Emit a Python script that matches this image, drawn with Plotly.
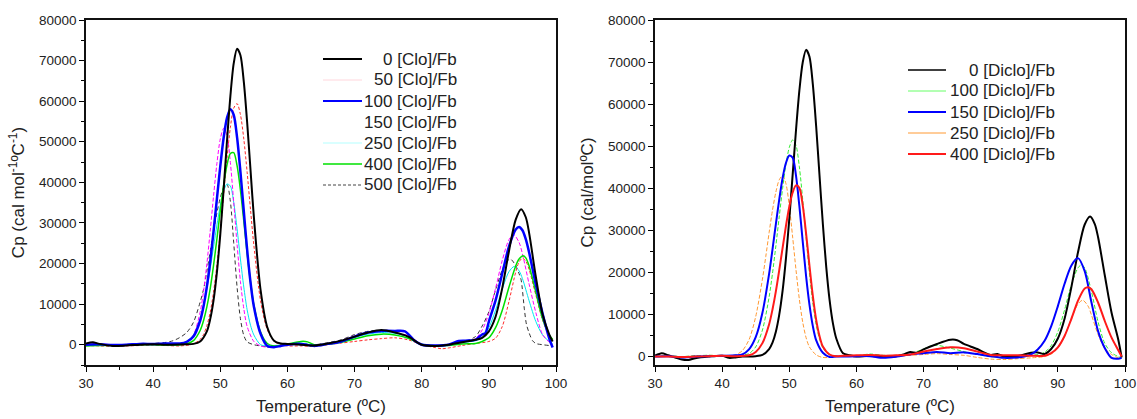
import plotly.graph_objects as go

# ---------------- DATA (Temperature ºC, Cp) ----------------
# Left panel: [Clo]/Fb
clo_0 = [(30,300),(31,600),(32,200),(34,-300),(36,-200),(38,0),(40,100),(42,0),(44,50),(45,100),(46,200),(47,800),(48,3300),(48.5,6300),(49,11000),(49.5,17900),(50,27200),(50.5,38300),(51,50200),(51.5,61200),(52,69300),(52.5,72900),(53,71300),(53.5,64800),(54,54800),(54.5,43100),(55,31500),(56,13500),(57,4300),(58,1000),(59,300),(60,200),(62,0),(64,-200),(66,300),(68,1000),(70,2000),(72,3000),(74,3600),(76,3000),(78,2000),(80,0),(82,-300),(84,0),(86,600),(88,1200),(89,1700),(90,3300),(91,6900),(92,14000),(93,23100),(94,30800),(94.8,33400),(95.5,31400),(96,27500),(97,16700),(98,7500),(99,2500),(99.5,800)]
clo_50 = [(30,-200),(32,-300),(34,-400),(36,-300),(38,-200),(40,-100),(42,-200),(44,-300),(46,200),(47,1300),(47.5,2500),(48,4700),(48.5,8000),(49,13000),(49.5,19700),(50,27900),(50.5,37000),(51,46000),(51.5,53500),(52,58300),(52.5,59400),(53,56700),(53.5,50700),(54,42500),(54.5,33300),(55,24500),(56,10800),(57,3700),(58,900),(59,0),(60,-300),(62,-300),(64,-400),(66,0),(68,400),(70,800),(72,1200),(74,1500),(76,1700),(78,1200),(80,0),(82,-700),(83,-1000),(84,-800),(86,-200),(88,300),(90,800),(91,1600),(92,4500),(93,10700),(94,17900),(94.5,20400),(95,21300),(95.5,20600),(96,18500),(97,12200),(98,6100),(99,2300),(99.5,1300)]
clo_100 = [(30,0),(32,100),(34,-100),(36,0),(38,200),(40,200),(42,300),(44,300),(45,700),(46,2000),(47,5900),(47.5,9400),(48,14300),(48.5,20500),(49,28000),(49.5,36000),(50,44000),(50.5,51000),(51,55900),(51.5,58000),(52,56600),(52.5,51100),(53,42600),(53.5,32900),(54,23400),(54.5,15400),(55,9400),(56,2700),(57,-300),(58,-600),(59,-300),(60,0),(62,200),(64,-300),(66,200),(68,800),(70,2000),(72,3000),(74,3400),(76,3400),(77.5,3300),(79,900),(80,0),(82,-200),(84,0),(85.5,900),(86.5,1000),(88,1200),(89,2500),(89.5,2900),(90,5700),(91,10900),(92,17600),(93,24200),(94,28400),(94.5,29000),(95,28200),(95.5,26000),(96,22700),(97,14800),(98,7700),(99,1500),(99.5,-700)]
clo_150 = [(30,300),(32,200),(34,0),(36,0),(38,200),(40,100),(42,0),(44,200),(45,600),(46,2400),(47,8000),(47.5,13100),(48,19900),(48.5,28000),(49,36700),(49.5,44700),(50,50700),(50.5,53300),(51,51600),(51.5,44900),(52,35100),(52.5,24700),(53,15600),(53.5,8900),(54,4500),(55,800),(56,-300),(57,-600),(58,-400),(60,0),(62,300),(64,-200),(66,200),(68,1000),(70,2200),(72,3000),(74,3300),(76,3000),(78,2200),(80,200),(82,-300),(84,0),(86,500),(88,1500),(89,3600),(90,7700),(91,13900),(92,20800),(93,25900),(93.7,27100),(94.5,25200),(95,22400),(96,14900),(97,7900),(98,2500),(99,600),(99.5,0)]
clo_250 = [(30,0),(32,-100),(34,-200),(36,0),(38,100),(40,0),(42,100),(44,300),(45,800),(46,2400),(47,6400),(48,13800),(48.5,18700),(49,24100),(49.5,29500),(50,34300),(50.5,37800),(51,39600),(51.5,39100),(52,35100),(52.5,28600),(53,21100),(53.5,14200),(54,8600),(54.5,4800),(55,2400),(56,0),(57,-300),(58,-200),(60,0),(62,400),(64,-100),(66,200),(68,800),(70,1800),(72,2600),(74,3000),(76,2800),(78,2000),(80,200),(82,-200),(84,0),(86,500),(88,1000),(89,1700),(90,4200),(91,8500),(92,13700),(93,18000),(93.8,19300),(94.5,18200),(95,16300),(96,10800),(97,5700),(98,2400),(99,800),(99.5,200)]
clo_400 = [(30,-300),(32,-200),(34,-200),(36,-100),(38,0),(40,0),(42,-100),(44,0),(45,250),(46,1000),(47,3500),(47.5,5900),(48,9300),(48.5,13800),(49,19600),(49.5,26100),(50,33000),(50.5,39300),(51,44300),(51.5,47100),(52,47300),(52.5,44100),(53,38100),(53.5,30500),(54,22500),(54.5,15500),(55,9800),(56,3100),(57,300),(58,-300),(59,-200),(60,100),(62,800),(63,700),(64,0),(66,100),(68,600),(70,1400),(72,2200),(74,2600),(76,2400),(78,1600),(80,0),(82,-300),(84,-200),(86,200),(88,300),(89,800),(90,1700),(91,4200),(92,8500),(93,14200),(94,19400),(94.5,21100),(95.1,21900),(95.5,21400),(96,19400),(97,12900),(98,6400),(99,2400),(99.5,1300)]
clo_500 = [(30,200),(31,600),(32,200),(34,-200),(36,0),(38,0),(40,300),(42,600),(43,1000),(44,1800),(45,3000),(46,5500),(47,10500),(47.5,13600),(48,18100),(48.5,23000),(49,27900),(49.5,32500),(50,36200),(50.5,38700),(51,39500),(51.5,35300),(52,25100),(52.5,14200),(53,6400),(53.5,2300),(54,700),(55,0),(56,-300),(57,-500),(58,-300),(60,0),(62,300),(64,0),(66,500),(68,1200),(70,2500),(72,3300),(73.5,3500),(76,3000),(78,1800),(80,0),(82,-200),(84,0),(86,600),(88,2000),(89,4600),(90,8100),(91,13500),(92,18500),(92.5,20200),(93.2,21100),(94,19500),(94.5,17500),(94.8,16000),(95.3,8600),(95.6,5000),(96,2900),(96.5,1000),(97,300),(98,0),(99,-200),(99.5,-300)]

# Right panel: [Diclo]/Fb
diclo_0 = [(30,200),(31,800),(32,300),(33,-200),(34,-700),(35,-800),(36,-400),(38,0),(40,200),(41,-300),(42,-200),(43,0),(44,0),(45,100),(46,400),(47,1800),(47.5,3300),(48,5900),(48.5,9900),(49,15600),(49.5,23300),(50,32700),(50.5,43200),(51,53800),(51.5,63200),(52,69900),(52.5,72900),(53,71300),(53.5,64800),(54,54800),(54.5,43100),(55,31500),(55.5,21400),(56,13500),(56.5,7900),(57,4300),(58,800),(59,300),(60,0),(62,200),(64,-100),(66,100),(67,500),(68,1100),(69,900),(70,1700),(72,3000),(74,4000),(75,3900),(76,3000),(78,1800),(79,1000),(80,400),(81,600),(82,0),(84,100),(86,900),(87,1000),(88,600),(89,1800),(90,4300),(91,9000),(92,16400),(93,24800),(94,31400),(94.8,33300),(95.5,31500),(96,28300),(97,19200),(98,10400),(99,4000),(99.5,-200)]
diclo_100 = [(30,0),(32,200),(34,0),(36,200),(38,300),(40,200),(42,300),(43,400),(44,700),(45,2300),(46,6300),(47,14200),(47.5,19800),(48,26300),(48.5,33200),(49,39900),(49.5,45700),(50,49700),(50.5,51500),(51,50200),(51.5,45100),(52,37300),(52.5,28400),(53,19900),(53.5,12800),(54,7600),(54.5,4200),(55,2100),(56,400),(57,200),(58,0),(60,200),(62,600),(64,300),(66,300),(68,700),(70,1800),(71,2500),(72,2700),(74,2000),(76,1200),(78,500),(80,0),(82,-200),(84,-100),(86,300),(87,500),(88,1000),(89,2600),(90,5900),(91,11100),(92,17000),(93,21100),(93.5,21800),(94,21100),(95,15500),(96,8200),(97,3100),(98,900),(99,0),(99.5,-300)]
diclo_150 = [(30,0),(32,100),(34,-200),(36,0),(38,100),(40,200),(42,300),(43,500),(44,1700),(45,4600),(46,10400),(47,19700),(47.5,25500),(48,31500),(48.5,37300),(49,42400),(49.5,46000),(50,47800),(50.5,47300),(51,43000),(51.5,35800),(52,27400),(52.5,19200),(53,12400),(53.5,7300),(54,3900),(55,900),(56,-100),(57,0),(58,0),(60,100),(62,100),(64,-300),(66,0),(68,500),(70,800),(72,1100),(74,800),(76,1000),(78,600),(80,100),(82,-300),(84,-200),(85,0),(86,500),(87,1700),(88,3700),(89,7200),(90,12000),(91,17300),(92,21600),(93,23400),(94,20300),(95,12900),(96,6000),(97,2000),(98,-300),(99,-500),(99.5,-300)]
diclo_250 = [(30,0),(32,0),(34,-100),(36,100),(38,300),(40,200),(41,100),(42,400),(43,1400),(44,4000),(45,9500),(46,18400),(46.5,23800),(47,29500),(47.5,34800),(48,39100),(48.5,42000),(49,43000),(49.5,41100),(50,35800),(50.5,28400),(51,20600),(51.5,13600),(52,8200),(52.5,4500),(53,2300),(54,400),(55,-200),(56,-200),(57,0),(58,100),(60,0),(62,300),(64,200),(66,100),(68,300),(70,500),(72,700),(74,500),(76,300),(78,-200),(80,-600),(82,-700),(84,-500),(86,-300),(88,0),(89,600),(90,2000),(91,4900),(92,9000),(93,12500),(93.7,13400),(94.5,12000),(95,9900),(96,5200),(97,1900),(98,500),(99,-300),(99.5,-200)]
diclo_400 = [(30,0),(32,0),(34,-100),(36,0),(38,100),(40,200),(42,100),(44,300),(45,1100),(46,3200),(47,7700),(47.5,11200),(48,15500),(48.5,20500),(49,25800),(49.5,31000),(50,35600),(50.5,39000),(51,40700),(51.5,40100),(52,36000),(52.5,29300),(53,21700),(53.5,14500),(54,8800),(54.5,4900),(55,2400),(56,500),(57,100),(58,200),(60,300),(62,400),(64,200),(66,300),(68,500),(70,1200),(72,1800),(74,2200),(76,2000),(78,1200),(80,400),(82,300),(84,300),(86,200),(88,200),(89,800),(90,2200),(91,4900),(92,8900),(93,13300),(94,16200),(94.5,16500),(95,16000),(96,12800),(97,8400),(98,4500),(99,1500),(99.5,0)]

left_labels = ["0 [Clo]/Fb", "50 [Clo]/Fb", "100 [Clo]/Fb", "150 [Clo]/Fb",
               "250 [Clo]/Fb", "400 [Clo]/Fb", "500 [Clo]/Fb"]
right_labels = ["0 [Diclo]/Fb", "100 [Diclo]/Fb", "150 [Diclo]/Fb",
                "250 [Diclo]/Fb", "400 [Diclo]/Fb"]

x_ticks = [30, 40, 50, 60, 70, 80, 90, 100]
y_ticks = [0, 10000, 20000, 30000, 40000, 50000, 60000, 70000, 80000]

# ---------------- STYLES ----------------
FONT = "Liberation Sans, Arial, sans-serif"
TXT = "#222222"
left_data = [clo_0, clo_50, clo_100, clo_150, clo_250, clo_400, clo_500]
left_style = [
    dict(color="#000000", width=2.0, dash="solid"),
    dict(color="#ff2a2a", width=1.0, dash="3px,2px"),
    dict(color="#0000ff", width=2.5, dash="solid"),
    dict(color="#ff00ff", width=1.0, dash="4px,2px"),
    dict(color="#00e8f0", width=1.0, dash="solid"),
    dict(color="#00e000", width=1.5, dash="solid"),
    dict(color="#333333", width=1.0, dash="4px,3px"),
]
left_legend_style = [
    dict(color="#000000", width=2.0, dash="solid"),
    dict(color="#ffd6dc", width=1.0, dash="solid"),
    dict(color="#0000ff", width=2.0, dash="solid"),
    None,
    dict(color="#ccffff", width=1.5, dash="solid"),
    dict(color="#00e000", width=1.5, dash="solid"),
    dict(color="#444444", width=1.0, dash="3px,2px"),
]
right_data = [diclo_0, diclo_100, diclo_150, diclo_250, diclo_400]
right_style = [
    dict(color="#000000", width=2.0, dash="solid"),
    dict(color="#33ee33", width=1.0, dash="4px,2px"),
    dict(color="#0000ff", width=2.0, dash="solid"),
    dict(color="#ff9933", width=1.0, dash="4px,2px"),
    dict(color="#ff1a1a", width=2.0, dash="solid"),
]
right_legend_style = [
    dict(color="#000000", width=1.5, dash="solid"),
    dict(color="#66ff66", width=1.0, dash="solid"),
    dict(color="#0000ff", width=2.0, dash="solid"),
    dict(color="#ff9933", width=1.0, dash="solid"),
    dict(color="#ff1a1a", width=2.0, dash="solid"),
]

W, H = 1137, 419


def unzip(pairs):
    return [p[0] for p in pairs], [p[1] for p in pairs]


fig = go.Figure()

order_left = [6, 4, 3, 1, 5, 2, 0]
for i in order_left:
    t, cp = unzip(left_data[i])
    fig.add_trace(go.Scatter(x=t, y=cp, mode="lines", name=left_labels[i],
                             line=dict(shape="spline", smoothing=0.8, **left_style[i]),
                             showlegend=False, xaxis="x", yaxis="y"))
order_right = [3, 1, 0, 2, 4]
for i in order_right:
    t, cp = unzip(right_data[i])
    fig.add_trace(go.Scatter(x=t, y=cp, mode="lines", name=right_labels[i],
                             line=dict(shape="spline", smoothing=0.8, **right_style[i]),
                             showlegend=False, xaxis="x2", yaxis="y2"))


def xax(domain, anchor):
    return dict(domain=domain, anchor=anchor, range=[30, 100], automargin=False,
                tickvals=x_ticks, ticktext=[str(v) for v in x_ticks],
                ticks="outside", ticklen=5, tickwidth=1,
                tickcolor="#000", showline=True, linecolor="#111", linewidth=1.5,
                mirror=True, showgrid=False, zeroline=False,
                minor=dict(dtick=5, tick0=30, ticks="outside", ticklen=3,
                           tickcolor="#000", showgrid=False),
                tickfont=dict(family=FONT, size=13.5, color=TXT),
                title=dict(text="Temperature (ºC)", standoff=10,
                           font=dict(family=FONT, size=17, color=TXT)))


def yax(domain, anchor, rng, title):
    return dict(domain=domain, anchor=anchor, range=rng, automargin=False,
                tickvals=y_ticks, ticktext=[str(v) for v in y_ticks],
                ticks="outside", ticklen=5, tickwidth=1,
                tickcolor="#000", showline=True, linecolor="#111", linewidth=1.5,
                mirror=True, showgrid=False, zeroline=False,
                minor=dict(dtick=5000, tick0=0, ticks="outside", ticklen=3,
                           tickcolor="#000", showgrid=False),
                tickfont=dict(family=FONT, size=13.5, color=TXT),
                title=dict(text=title, standoff=10,
                           font=dict(family=FONT, size=17, color=TXT)))


ydom = [(H - 365) / H, (H - 20) / H]

# legends drawn as line samples + right-aligned labels
shapes, annotations = [], []


def add_legend(labels, styles, x0, x1, xtext, y_first, step):
    for k, (lab, st) in enumerate(zip(labels, styles)):
        yp = (H - (y_first + k * step)) / H
        if st is not None:
            shapes.append(dict(type="line", xref="paper", yref="paper",
                               x0=x0 / W, x1=x1 / W, y0=yp, y1=yp,
                               line=st))
        annotations.append(dict(text=lab, xref="paper", yref="paper",
                                x=xtext / W, y=yp, xanchor="right", yanchor="middle",
                                showarrow=False,
                                font=dict(family=FONT, size=17, color=TXT)))


add_legend(left_labels, left_legend_style, 323, 362, 459, 59, 21)
add_legend(right_labels, right_legend_style, 908, 946, 1057, 70, 21)

fig.update_layout(
    width=W, height=H,
    margin=dict(l=0, r=0, t=0, b=0),
    paper_bgcolor="white", plot_bgcolor="white",
    font=dict(family=FONT, color=TXT),
    xaxis=xax([86 / W, 556 / W], "y"),
    yaxis=yax(ydom, "x", [-5000, 80000], "Cp (cal mol<sup>-1</sup>ºC<sup>-1</sup>)"),
    xaxis2=xax([655 / W, 1125 / W], "y2"),
    yaxis2=yax(ydom, "x2", [-2000, 80000], "Cp (cal/molºC)"),
    shapes=shapes,
    annotations=annotations,
    showlegend=False,
)

fig.write_html("out.html")
